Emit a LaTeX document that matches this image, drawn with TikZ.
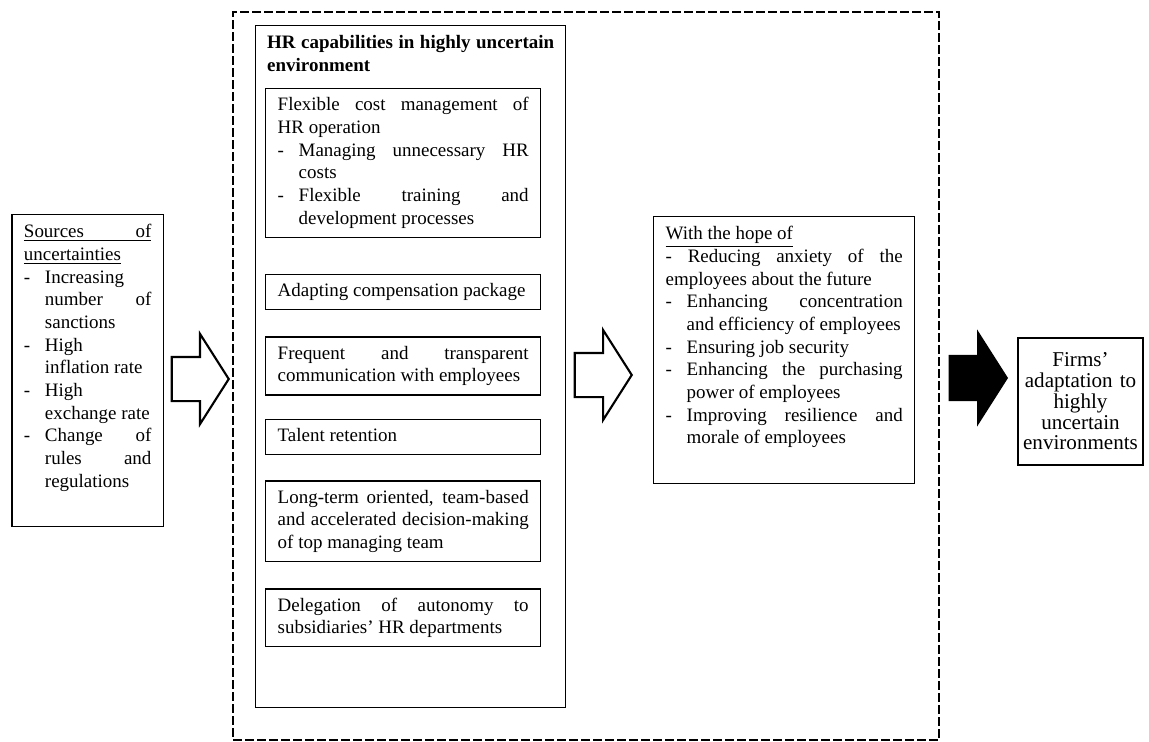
\documentclass[tikz,border=0pt]{standalone}
\usepackage{fontspec}
\setmainfont{Liberation Serif}
\usepackage{tikz}
\usetikzlibrary{shapes.arrows,positioning}
\hyphenpenalty=10000
\tolerance=10000
\newcommand{\bodyfont}{\fontsize{10.8}{12.9}\selectfont\fontdimen4\font=0pt}
\newcommand{\dashitem}[1]{\par\hangindent=0.42cm\hangafter=1\noindent\makebox[0.42cm][l]{-}#1\strut\par}
\tikzstyle{frame} = [rectangle, draw = black, line width = 1.1pt, dash pattern = on 0.17cm off 0.07cm, minimum width = 14.12cm, minimum height = 14.56cm, inner sep = 0pt]
\tikzstyle{panel} = [rectangle, draw = black, line width = 0.8pt, anchor = north west, align = justify, inner xsep = 0.24cm, inner ysep = 0.16cm, text height = 0.3cm, font = \bodyfont]
\tikzstyle{subbox} = [rectangle, draw = black, line width = 0.8pt, text width = 5.02cm, align = justify, inner xsep = 0.24cm, inner ysep = 0.125cm, font = \bodyfont, execute at begin node = \strut, execute at end node = \ifhmode\strut\fi]
\tikzstyle{outcome} = [rectangle, draw = black, line width = 0.8pt, text width = 2.36cm, inner xsep = 0.07cm, minimum height = 2.54cm, align = center, font = \fontsize{12}{11.8}\selectfont]
\tikzstyle{hollowarrow} = [single arrow, draw = black, line width = 1.2pt, fill = white, inner sep = 0pt, text height = 0.84cm, text depth = 0pt, minimum height = 1.14cm, single arrow head extend = 0.46cm, single arrow tip angle = 115]
\tikzstyle{fullarrow} = [hollowarrow, fill = black]

\begin{document}
\begin{tikzpicture}
    \useasboundingbox (0,0) rectangle (22.98,-14.84);
    \node (frame) [frame] at (11.72,-7.52) {};

    \node (src) [panel, text width = 2.55cm, inner xsep = 0.235cm, text depth = 5.62cm] at (0.23,-4.28) {\underline{\makebox[\linewidth][s]{Sources of}}\par\noindent\underline{uncertainties}\dashitem{Increasing number of sanctions}\dashitem{High\\inflation rate}\dashitem{High\\exchange rate}\dashitem{Change of rules and regulations}};

    \node (hr) [panel, text width = 5.74cm, inner xsep = 0.23cm, text depth = 13.02cm] at (5.1,-0.5) {\textbf{HR capabilities in highly uncertain environment}};
    \node (cost) [subbox, below right = 1.26cm and 0.2cm of hr.north west] {Flexible cost management of\linebreak HR operation\dashitem{Managing unnecessary HR costs}\dashitem{Flexible training and development processes}};
    \node (pay) [subbox, below = 0.72cm of cost] {Adapting compensation package};
    \node (talk) [subbox, below = 0.52cm of pay] {Frequent and transparent communication with employees};
    \node (talent) [subbox, below = 0.46cm of talk] {Talent retention};
    \node (lead) [subbox, below = 0.5cm of talent] {Long-term oriented, team-based and accelerated decision-making of top managing team};
    \node (autonomy) [subbox, below = 0.52cm of lead] {Delegation of autonomy to subsidiaries' HR departments};

    \node (hope) [panel, text width = 4.74cm, text depth = 4.72cm] at (13.06,-4.32) {\underline{With the hope of}\par - Reducing anxiety of the employees about the future\dashitem{Enhancing concentration and efficiency of employees}\dashitem{Ensuring job security}\dashitem{Enhancing the purchasing power of employees}\dashitem{Improving resilience and morale of employees}};

    \node (firms) [outcome] at (21.61,-8.03) {Firms'\\ adaptation to\\ highly\\ uncertain\\ environments};

    \node (a1) [hollowarrow, anchor = tip] at (4.6,-7.58) {};
    \node (a2) [hollowarrow, anchor = tip] at (12.66,-7.5) {};
    \node (a3) [fullarrow, anchor = tip] at (20.16,-7.56) {};
\end{tikzpicture}
\end{document}
